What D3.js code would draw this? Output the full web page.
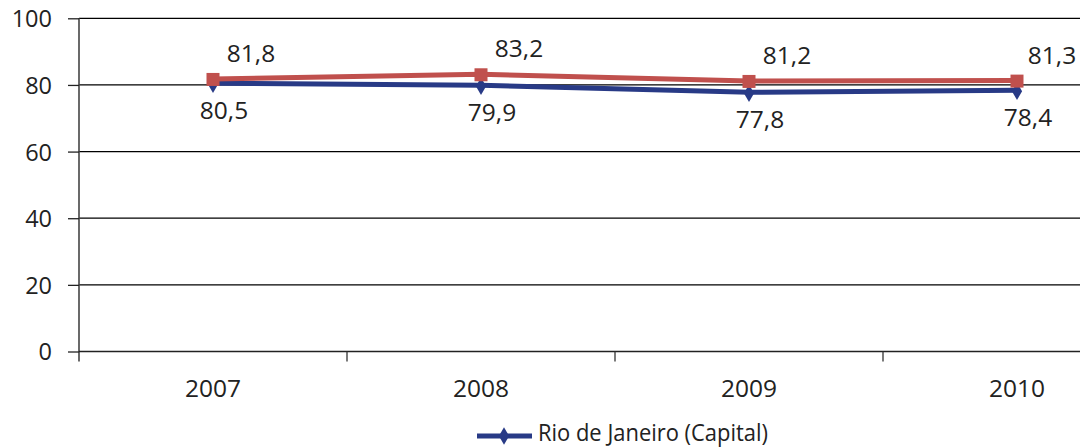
<!DOCTYPE html>
<html><head><meta charset="utf-8">
<script src="https://cdn.jsdelivr.net/npm/d3@7"></script>
<style>body{margin:0;background:#fff}svg{display:block}text{font-family:"Open Sans","Noto Sans",sans-serif}</style>
</head><body><svg id="c" width="1080" height="448"></svg>
<script>
const categories = ["2007","2008","2009","2010"];
const seriesBlueName = "Rio de Janeiro (Capital)";
const seriesBlue = [80.5, 79.9, 77.8, 78.4];
const seriesRed = [81.8, 83.2, 81.2, 81.3];
const yTicks = [0,20,40,60,80,100];

(function(){
const svg = d3.select("#c");
const mLeft = 79, mTop = 18.3, mBottom = 351.5, bandW = 268;
const FS = 24.5;
const x = d3.scaleBand().domain(categories).range([mLeft, mLeft + bandW*categories.length]);
const y = d3.scaleLinear().domain([0,100]).range([mBottom, mTop]);
const fmt = v => v.toFixed(1).replace(".", ",");

// gridlines
svg.append("g").selectAll("line").data(yTicks.filter(d=>d>0)).join("line")
  .attr("x1", mLeft).attr("x2", 1080).attr("y1", d=>y(d)).attr("y2", d=>y(d))
  .attr("stroke", "#000").attr("stroke-width", 1.3);

// y axis
const ya = svg.append("g").attr("transform", `translate(${mLeft},0)`)
  .call(d3.axisLeft(y).tickValues(yTicks).tickSize(11).tickPadding(16).tickFormat(d3.format("d")));
ya.select(".domain").attr("stroke", "#444").attr("stroke-width", 1.6).attr("d", `M0,${mTop}V${mBottom+10}`);
ya.selectAll(".tick line").attr("stroke", "#222").attr("stroke-width", 1.3);
ya.selectAll("text").attr("font-size", 23.5).attr("fill", "#222").attr("dy","0.36em")
  .style("font-family", "'Open Sans','Noto Sans',sans-serif");

// x axis
const xa = svg.append("g").attr("transform", `translate(0,${mBottom})`);
xa.append("line").attr("x1", mLeft).attr("x2", 1080).attr("y1", 0).attr("y2", 0).attr("stroke", "#222").attr("stroke-width", 1.6);
xa.selectAll("line.tk").data(categories.slice(1)).join("line").attr("class","tk")
  .attr("x1", d=>x(d)).attr("x2", d=>x(d)).attr("y1", 0).attr("y2", 10).attr("stroke", "#333").attr("stroke-width", 1.3);
xa.selectAll("text").data(categories).join("text")
  .attr("x", d=>x(d)+x.bandwidth()/2).attr("y", 45).attr("text-anchor","middle")
  .attr("font-size", FS).attr("fill", "#222").text(d=>d);

const cx = d => x(d) + x.bandwidth()/2;
const line = d3.line().x((d,i)=>cx(categories[i])).y(d=>y(d));

// blue series
svg.append("path").datum(seriesBlue).attr("d", line).attr("fill","none")
  .attr("stroke", "#283A86").attr("stroke-width", 5);
svg.append("g").selectAll("path").data(seriesBlue).join("path")
  .attr("transform",(d,i)=>`translate(${cx(categories[i])},${y(d)+1})`)
  .attr("d", d3.symbol(d3.symbolDiamond, 90)()).attr("fill", "#283A86");

// red series
svg.append("path").datum(seriesRed).attr("d", line).attr("fill","none")
  .attr("stroke", "#C0504D").attr("stroke-width", 5);
svg.append("g").selectAll("rect").data(seriesRed).join("rect")
  .attr("x",(d,i)=>cx(categories[i])-6.5).attr("y", d=>y(d)-6).attr("width",13).attr("height",13)
  .attr("fill", "#C0504D");

// labels
svg.append("g").selectAll("text").data(seriesRed).join("text")
  .attr("x",(d,i)=>Math.min(cx(categories[i])+38, 1052)).attr("y", d=>y(d)-17)
  .attr("text-anchor","middle").attr("font-size", FS).attr("fill","#222").text(fmt);
svg.append("g").selectAll("text").data(seriesBlue).join("text")
  .attr("x",(d,i)=>Math.min(cx(categories[i])+11, 1040)).attr("y", d=>y(d)+36)
  .attr("text-anchor","middle").attr("font-size", FS).attr("fill","#222").text(fmt);

// legend
const lg = svg.append("g").attr("transform","translate(477,436)");
lg.append("line").attr("x1",0).attr("x2",55).attr("y1",0).attr("y2",0).attr("stroke","#283A86").attr("stroke-width",5);
lg.append("path").attr("transform","translate(27,0)").attr("d", d3.symbol(d3.symbolDiamond,90)()).attr("fill","#283A86");
lg.append("text").attr("x",61).attr("y",5).attr("font-size",23).attr("fill","#222")
  .attr("textLength",230).attr("lengthAdjust","spacingAndGlyphs").text(seriesBlueName);
})();
</script></body></html>
